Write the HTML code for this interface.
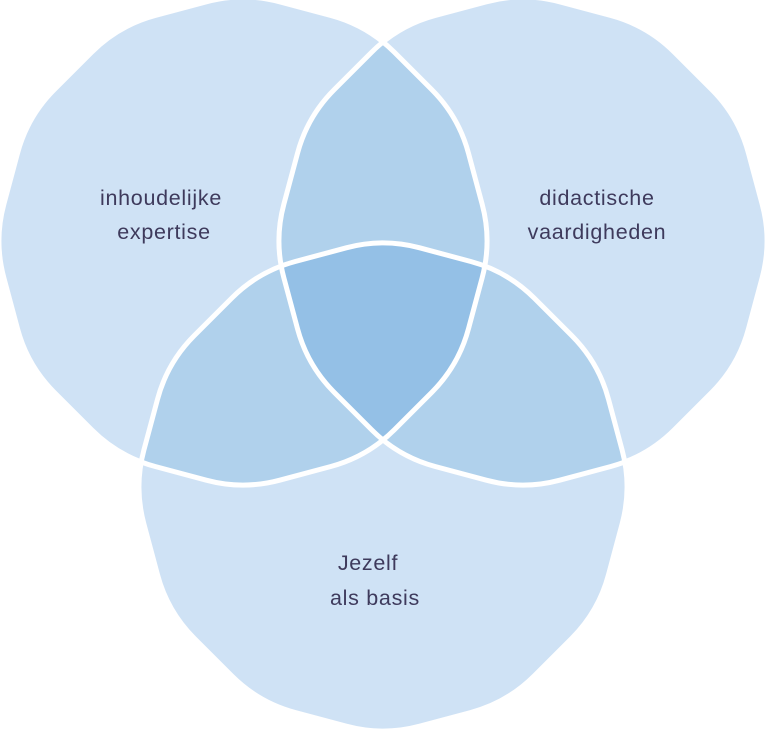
<!DOCTYPE html>
<html><head><meta charset="utf-8"><style>
html,body{margin:0;padding:0;background:#fff;}
svg{display:block;}
text{font-family:"Liberation Sans",sans-serif;font-size:21.5px;letter-spacing:0.7px;fill:#3e3a5c;text-anchor:middle;}
</style></head><body>
<svg id="s" width="766" height="729" viewBox="0 0 766 729" xmlns="http://www.w3.org/2000/svg">
<defs>
<clipPath id="cA"><path id="pA0"/></clipPath>
<clipPath id="cB"><path id="pB0"/></clipPath>
<clipPath id="cC"><path id="pC0"/></clipPath>
</defs>
<path id="A" fill="#cfe2f5"/>
<path id="B" fill="#cfe2f5"/>
<path id="C" fill="#cfe2f5"/>
<g clip-path="url(#cA)"><path id="AB" fill="#b0d1ec"/></g>
<g clip-path="url(#cA)"><path id="AC" fill="#b0d1ec"/></g>
<g clip-path="url(#cB)"><path id="BC" fill="#b0d1ec"/></g>
<g clip-path="url(#cA)"><g clip-path="url(#cB)"><path id="ABC" fill="#94c0e6"/></g></g>
<path id="sA" fill="none" stroke="#fff" stroke-width="5"/>
<path id="sB" fill="none" stroke="#fff" stroke-width="5"/>
<path id="sC" fill="none" stroke="#fff" stroke-width="5"/>
<text x="161" y="205">inhoudelijke</text>
<text x="164" y="239">expertise</text>
<text x="597" y="205">didactische</text>
<text x="597" y="239">vaardigheden</text>
<text x="368" y="570">Jezelf</text>
<text x="375" y="605">als basis</text>
</svg>
<script>
function rp(cx,cy,R,d){
  var n=12,pts=[];
  for(var i=0;i<n;i++){var a=-Math.PI/2+i*2*Math.PI/n;pts.push([cx+R*Math.cos(a),cy+R*Math.sin(a)]);}
  var s="";
  for(var i=0;i<n;i++){
    var p=pts[i],pr=pts[(i+n-1)%n],nx=pts[(i+1)%n];
    var l1=Math.hypot(pr[0]-p[0],pr[1]-p[1]),l2=Math.hypot(nx[0]-p[0],nx[1]-p[1]);
    var a=[p[0]+(pr[0]-p[0])*d/l1,p[1]+(pr[1]-p[1])*d/l1];
    var b=[p[0]+(nx[0]-p[0])*d/l2,p[1]+(nx[1]-p[1])*d/l2];
    s+=(i==0?"M":"L")+a[0].toFixed(2)+","+a[1].toFixed(2)+"Q"+p[0].toFixed(2)+","+p[1].toFixed(2)+" "+b[0].toFixed(2)+","+b[1].toFixed(2);
  }
  return s+"Z";
}
var R=249,d=38;
var A=rp(243,241,R,d),B=rp(523,241,R,d),C=rp(383,487,R,d);
function set(id,v){document.getElementById(id).setAttribute("d",v);}
set("A",A);set("B",B);set("C",C);
set("pA0",A);set("pB0",B);set("pC0",C);
set("AB",B);set("AC",C);set("BC",C);set("ABC",C);
set("sA",A);set("sB",B);set("sC",C);
</script>
</body></html>
